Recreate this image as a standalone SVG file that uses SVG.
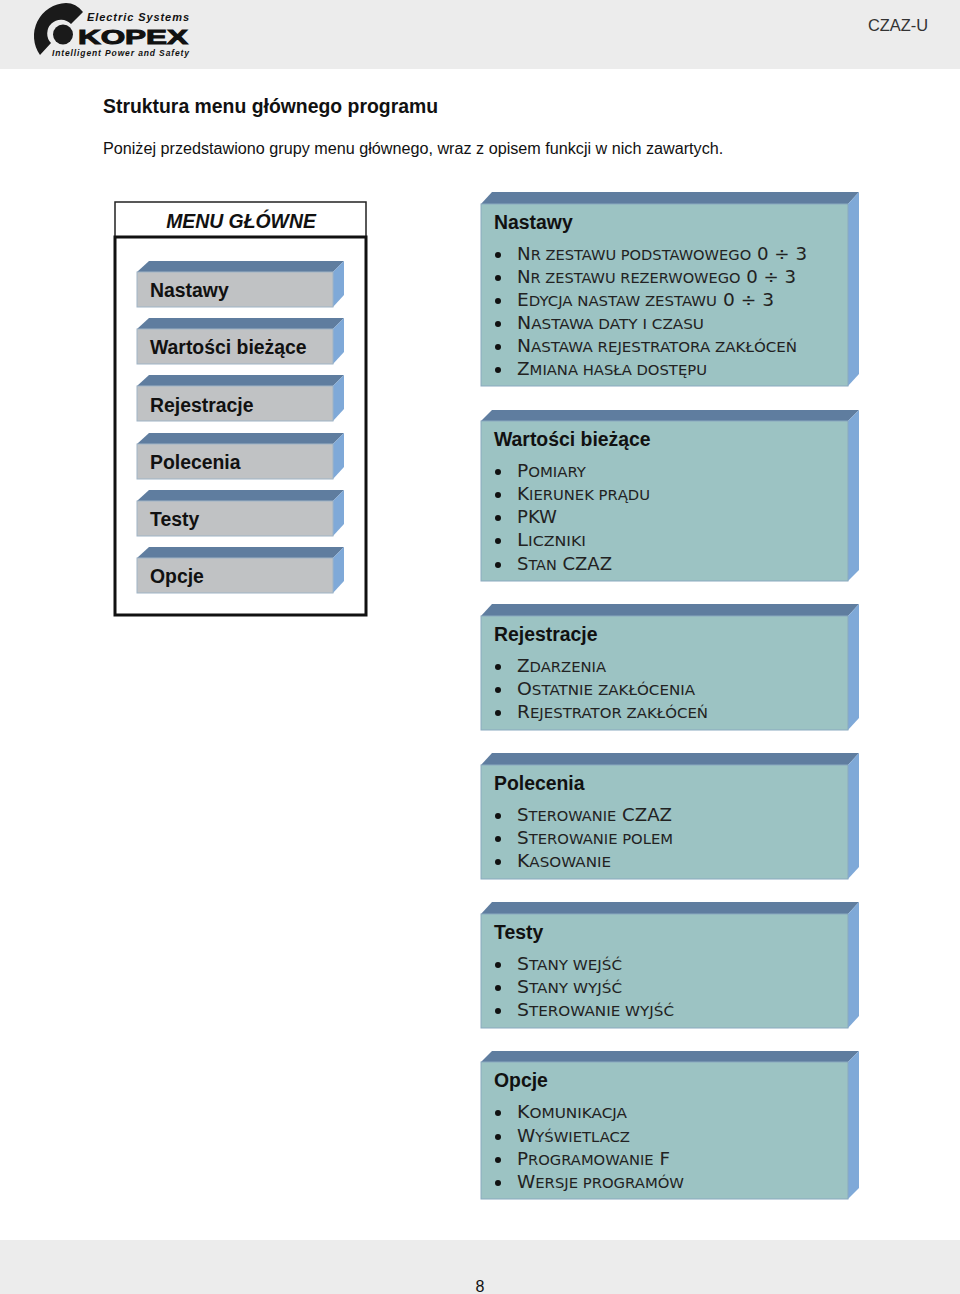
<svg xmlns="http://www.w3.org/2000/svg" width="960" height="1294" viewBox="0 0 960 1294">
<style>
text{font-family:"Liberation Sans",Arial,sans-serif;fill:#111}
.band{fill:#ececec}
.top{fill:#5f7d9f}
.side{fill:#7fa9d8}
.pf{fill:#9cc3c3;stroke:#8aa9bf;stroke-width:1}
.bf{fill:#c0c2c4;stroke:#9fb4c6;stroke-width:1}
.h{font-size:19.4px;font-weight:bold}
.li{font-family:"DejaVu Sans",sans-serif;font-size:18.2px;fill:#222}
.s{font-size:14.6px}
.dot{fill:#111}
</style>
<defs>
<g id="bul"><circle r="3" class="dot"/></g>
</defs>
<rect class="band" x="0" y="0" width="960" height="69"/>
<rect class="band" x="0" y="1240" width="960" height="54"/>
<g id="logo">
<path d="M40 55A33 33 0 0 1 66 3Q76 3 83 12L71 24A13.500 13.500 0 0 0 51 43Z" fill="#1a1a1a"/>
<circle cx="63" cy="34.500" r="10" fill="#1a1a1a"/>
<text x="87" y="21" font-size="11" font-weight="bold" font-style="italic" textLength="102" lengthAdjust="spacing">Electric Systems</text>
<text x="78" y="43.500" font-size="21" font-weight="900" textLength="110" lengthAdjust="spacingAndGlyphs" style="stroke:#111;stroke-width:1">KOPEX</text>
<text x="52" y="56" font-size="8.500" font-weight="bold" font-style="italic" textLength="137" lengthAdjust="spacing">Intelligent Power and Safety</text>
</g>
<text x="868" y="31" font-size="16.400" style="fill:#333">CZAZ-U</text>
<text x="103" y="113" font-size="19.400" font-weight="bold">Struktura menu głównego programu</text>
<text x="103" y="154" font-size="16.180">Poniżej przedstawiono grupy menu głównego, wraz z opisem funkcji w nich zawartych.</text>
<g id="menu">
<rect x="115" y="202" width="251" height="35" fill="#fff" stroke="#222" stroke-width="1.500"/>
<rect x="115" y="237" width="251" height="378" fill="#fff" stroke="#111" stroke-width="3"/>
<text x="241" y="228" font-size="19.400" font-weight="bold" font-style="italic" text-anchor="middle">MENU GŁÓWNE</text>
</g>
<g id="m1"><path class="top" d="M137 272L149 261H344L333 272Z"/><path class="side" d="M333 272L344 261V295L333 307Z"/><rect class="bf" x="137" y="272" width="196" height="35"/><text class="h" x="150" y="297">Nastawy</text></g>
<g id="m2"><path class="top" d="M137 329L149 318H344L333 329Z"/><path class="side" d="M333 329L344 318V352L333 364Z"/><rect class="bf" x="137" y="329" width="196" height="35"/><text class="h" x="150" y="354">Wartości bieżące</text></g>
<g id="m3"><path class="top" d="M137 386L149 375H344L333 386Z"/><path class="side" d="M333 386L344 375V409L333 421Z"/><rect class="bf" x="137" y="386" width="196" height="35"/><text class="h" x="150" y="412">Rejestracje</text></g>
<g id="m4"><path class="top" d="M137 444L149 433H344L333 444Z"/><path class="side" d="M333 444L344 433V467L333 479Z"/><rect class="bf" x="137" y="444" width="196" height="35"/><text class="h" x="150" y="469">Polecenia</text></g>
<g id="m5"><path class="top" d="M137 501L149 490H344L333 501Z"/><path class="side" d="M333 501L344 490V524L333 536Z"/><rect class="bf" x="137" y="501" width="196" height="35"/><text class="h" x="150" y="526">Testy</text></g>
<g id="m6"><path class="top" d="M137 558L149 547H344L333 558Z"/><path class="side" d="M333 558L344 547V581L333 593Z"/><rect class="bf" x="137" y="558" width="196" height="35"/><text class="h" x="150" y="583">Opcje</text></g>

<g id="p1"><path class="top" d="M481 204L492 192H859L848 204Z"/><path class="side" d="M848 204L859 192V374L848 386Z"/><rect class="pf" x="481" y="204" width="367" height="182"/>
<text class="h" x="494" y="229">Nastawy</text>
<use href="#bul" x="498" y="255"/><text class="li" x="517" y="260" textLength="290" lengthAdjust="spacingAndGlyphs">N<tspan class="s">R ZESTAWU PODSTAWOWEGO</tspan> 0 ÷ 3</text>
<use href="#bul" x="498" y="278"/><text class="li" x="517" y="283" textLength="279" lengthAdjust="spacingAndGlyphs">N<tspan class="s">R ZESTAWU REZERWOWEGO</tspan> 0 ÷ 3</text>
<use href="#bul" x="498" y="301"/><text class="li" x="517" y="306" textLength="257" lengthAdjust="spacingAndGlyphs">E<tspan class="s">DYCJA NASTAW ZESTAWU</tspan> 0 ÷ 3</text>
<use href="#bul" x="498" y="324"/><text class="li" x="517" y="329" textLength="187" lengthAdjust="spacingAndGlyphs">N<tspan class="s">ASTAWA DATY I CZASU</tspan></text>
<use href="#bul" x="498" y="347"/><text class="li" x="517" y="352" textLength="280" lengthAdjust="spacingAndGlyphs">N<tspan class="s">ASTAWA REJESTRATORA ZAKŁÓCEŃ</tspan></text>
<use href="#bul" x="498" y="370"/><text class="li" x="517" y="375" textLength="190" lengthAdjust="spacingAndGlyphs">Z<tspan class="s">MIANA HASŁA DOSTĘPU</tspan></text></g>

<g id="p2"><path class="top" d="M481 421L492 410H859L848 421Z"/><path class="side" d="M848 421L859 410V570L848 581Z"/><rect class="pf" x="481" y="421" width="367" height="160"/>
<text class="h" x="494" y="446">Wartości bieżące</text>
<use href="#bul" x="498" y="472"/><text class="li" x="517" y="477" textLength="69" lengthAdjust="spacingAndGlyphs">P<tspan class="s">OMIARY</tspan></text>
<use href="#bul" x="498" y="495"/><text class="li" x="517" y="500" textLength="133" lengthAdjust="spacingAndGlyphs">K<tspan class="s">IERUNEK PRĄDU</tspan></text>
<use href="#bul" x="498" y="518"/><text class="li" x="517" y="523" textLength="40" lengthAdjust="spacingAndGlyphs">PKW</text>
<use href="#bul" x="498" y="541"/><text class="li" x="517" y="546" textLength="69" lengthAdjust="spacingAndGlyphs">L<tspan class="s">ICZNIKI</tspan></text>
<use href="#bul" x="498" y="565"/><text class="li" x="517" y="570" textLength="95" lengthAdjust="spacingAndGlyphs">S<tspan class="s">TAN</tspan> CZAZ</text></g>

<g id="p3"><path class="top" d="M481 616L492 604H859L848 616Z"/><path class="side" d="M848 616L859 604V718L848 730Z"/><rect class="pf" x="481" y="616" width="367" height="114"/>
<text class="h" x="494" y="641">Rejestracje</text>
<use href="#bul" x="498" y="667"/><text class="li" x="517" y="672" textLength="89" lengthAdjust="spacingAndGlyphs">Z<tspan class="s">DARZENIA</tspan></text>
<use href="#bul" x="498" y="690"/><text class="li" x="517" y="695" textLength="178" lengthAdjust="spacingAndGlyphs">O<tspan class="s">STATNIE ZAKŁÓCENIA</tspan></text>
<use href="#bul" x="498" y="713"/><text class="li" x="517" y="718" textLength="191" lengthAdjust="spacingAndGlyphs">R<tspan class="s">EJESTRATOR ZAKŁÓCEŃ</tspan></text></g>

<g id="p4"><path class="top" d="M481 765L492 753H859L848 765Z"/><path class="side" d="M848 765L859 753V867L848 879Z"/><rect class="pf" x="481" y="765" width="367" height="114"/>
<text class="h" x="494" y="790">Polecenia</text>
<use href="#bul" x="498" y="816"/><text class="li" x="517" y="821" textLength="155" lengthAdjust="spacingAndGlyphs">S<tspan class="s">TEROWANIE</tspan> CZAZ</text>
<use href="#bul" x="498" y="839"/><text class="li" x="517" y="844" textLength="156" lengthAdjust="spacingAndGlyphs">S<tspan class="s">TEROWANIE POLEM</tspan></text>
<use href="#bul" x="498" y="862"/><text class="li" x="517" y="867" textLength="94" lengthAdjust="spacingAndGlyphs">K<tspan class="s">ASOWANIE</tspan></text></g>

<g id="p5"><path class="top" d="M481 914L492 902H859L848 914Z"/><path class="side" d="M848 914L859 902V1016L848 1028Z"/><rect class="pf" x="481" y="914" width="367" height="114"/>
<text class="h" x="494" y="939">Testy</text>
<use href="#bul" x="498" y="965"/><text class="li" x="517" y="970" textLength="105" lengthAdjust="spacingAndGlyphs">S<tspan class="s">TANY WEJŚĆ</tspan></text>
<use href="#bul" x="498" y="988"/><text class="li" x="517" y="993" textLength="105" lengthAdjust="spacingAndGlyphs">S<tspan class="s">TANY WYJŚĆ</tspan></text>
<use href="#bul" x="498" y="1011"/><text class="li" x="517" y="1016" textLength="157" lengthAdjust="spacingAndGlyphs">S<tspan class="s">TEROWANIE WYJŚĆ</tspan></text></g>

<g id="p6"><path class="top" d="M481 1062L492 1051H859L848 1062Z"/><path class="side" d="M848 1062L859 1051V1188L848 1199Z"/><rect class="pf" x="481" y="1062" width="367" height="137"/>
<text class="h" x="494" y="1087">Opcje</text>
<use href="#bul" x="498" y="1113"/><text class="li" x="517" y="1118" textLength="110" lengthAdjust="spacingAndGlyphs">K<tspan class="s">OMUNIKACJA</tspan></text>
<use href="#bul" x="498" y="1137"/><text class="li" x="517" y="1142" textLength="113" lengthAdjust="spacingAndGlyphs">W<tspan class="s">YŚWIETLACZ</tspan></text>
<use href="#bul" x="498" y="1160"/><text class="li" x="517" y="1165" textLength="153" lengthAdjust="spacingAndGlyphs">P<tspan class="s">ROGRAMOWANIE</tspan> F</text>
<use href="#bul" x="498" y="1183"/><text class="li" x="517" y="1188" textLength="167" lengthAdjust="spacingAndGlyphs">W<tspan class="s">ERSJE PROGRAMÓW</tspan></text></g>
<text x="480" y="1292" font-size="16" text-anchor="middle">8</text>
</svg>
